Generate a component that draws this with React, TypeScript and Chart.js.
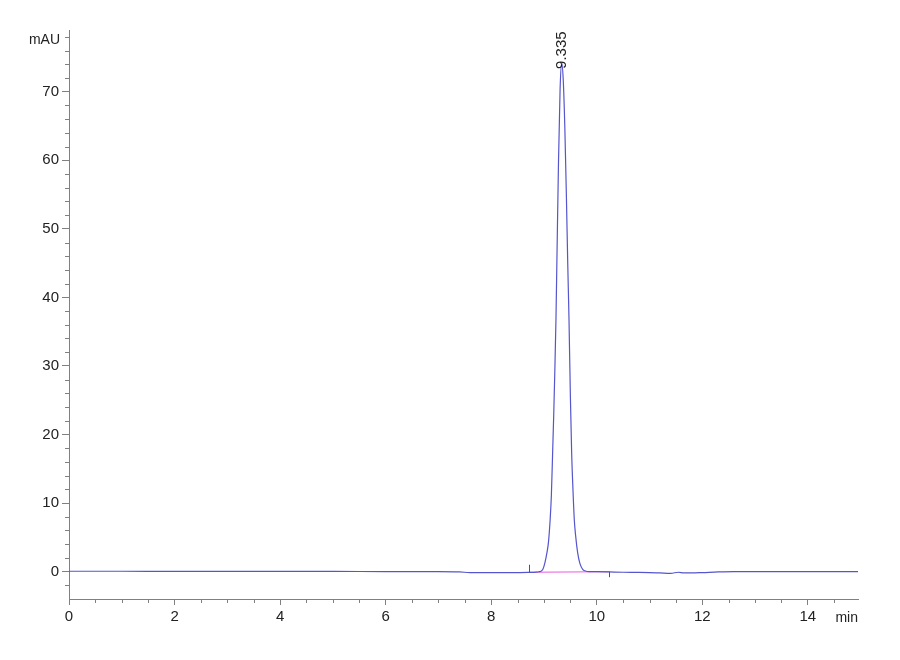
import React, { useRef, useEffect } from 'react';
import { Chart, registerables } from 'chart.js';

Chart.register(...registerables);

// retention time (min) and absorbance (mAU)
const times = [
    0, 1, 2, 3, 4, 5, 6, 7, 7.4, 7.6, 8.0, 8.4, 8.7, 8.85,
    8.9, 8.95, 8.977, 9.015, 9.057, 9.085, 9.117, 9.14, 9.164, 9.185, 9.205, 9.227, 9.245, 9.275, 9.305, 9.335,
    9.365, 9.395, 9.425, 9.45, 9.474, 9.5, 9.524, 9.55, 9.574, 9.6, 9.637, 9.68, 9.737, 9.8, 9.85,
    10.0, 10.25, 10.5, 10.8, 11.0, 11.2, 11.4, 11.55, 11.65, 11.8, 12.0, 12.3, 12.6, 13, 14, 14.95,
];
const signal = [
    0.05, 0.05, 0.03, 0.03, 0.02, 0.02, 0, 0, -0.05, -0.15, -0.15, -0.15, -0.12, -0.08,
    -0.03, 0.1, 0.3, 1.2, 2.8, 4.3, 7.6, 11.1, 17.4, 23.0, 29.1, 36.8, 45.5, 59.7, 70.3, 74.2,
    71.7, 64.8, 54.6, 45.0, 36.8, 25.6, 17.4, 11.8, 7.6, 5.2, 2.8, 1.2, 0.3, 0.05, 0,
    0, -0.05, -0.1, -0.12, -0.15, -0.2, -0.25, -0.1, -0.2, -0.2, -0.15, -0.05, 0, 0, 0, 0,
];

// integration baseline and peak start/end markers
const baseTimes = [8.72, 10.23];
const baseValues = [-0.1, -0.02];
const markerHeights = [1.1, -0.8];

const peakTime = 9.335;
const peakHeight = 74.2;
const peakLabel = '9.335';

const xMin = 0;
const xMax = 14.95;
const yMin = -4;
const yMax = 79;

const axisColor = '#808080';
const textColor = '#222';
const fontFamily = "'Liberation Sans', Arial, sans-serif";

const extras = {
    id: 'extras',
    afterDraw(chart: any) {
        const { ctx, chartArea } = chart;
        const xs = chart.scales.x;
        const ys = chart.scales.y;
        ctx.save();
        // minor ticks
        ctx.strokeStyle = axisColor;
        ctx.lineWidth = 1;
        ctx.beginPath();
        for (let v = 0; v <= xMax; v += 0.5) {
            if (v % 2 === 0) continue;
            const px = Math.round(xs.getPixelForValue(v)) + 0.5;
            ctx.moveTo(px, chartArea.bottom);
            ctx.lineTo(px, chartArea.bottom + 4);
        }
        for (let v = -2; v <= yMax; v += 2) {
            if (v % 10 === 0) continue;
            const py = Math.round(ys.getPixelForValue(v)) + 0.5;
            ctx.moveTo(chartArea.left, py);
            ctx.lineTo(chartArea.left - 4, py);
        }
        ctx.stroke();

        // peak start / end markers
        ctx.strokeStyle = '#555';
        ctx.beginPath();
        baseTimes.forEach((t, i) => {
            const px = Math.round(xs.getPixelForValue(t)) + 0.5;
            ctx.moveTo(px, ys.getPixelForValue(baseValues[i]));
            ctx.lineTo(px, ys.getPixelForValue(baseValues[i] + markerHeights[i]));
        });
        ctx.stroke();

        // unit labels
        ctx.fillStyle = textColor;
        ctx.font = `14px ${fontFamily}`;
        ctx.textAlign = 'right';
        ctx.textBaseline = 'middle';
        ctx.fillText('mAU', chartArea.left - 9, chartArea.top + 10);
        ctx.textBaseline = 'alphabetic';
        ctx.fillText('min', chartArea.right, chartArea.bottom + 23);

        // peak retention time label
        ctx.font = `15px ${fontFamily}`;
        ctx.translate(xs.getPixelForValue(peakTime), ys.getPixelForValue(peakHeight) + 6);
        ctx.rotate(-Math.PI / 2);
        ctx.textAlign = 'left';
        ctx.textBaseline = 'middle';
        ctx.fillText(peakLabel, 0, 0);
        ctx.restore();
    },
};

const App = () => {
    const chartRef = useRef<HTMLCanvasElement>(null);

    useEffect(() => {
        if (!chartRef.current) return;
        const myChart = new Chart(chartRef.current, {
            type: 'line',
            data: {
                datasets: [
                    {
                        label: 'signal',
                        data: times.map((t, i) => ({ x: t, y: signal[i] })),
                        borderColor: 'rgb(85, 85, 205)',
                        borderWidth: 1.2,
                        pointRadius: 0,
                        cubicInterpolationMode: 'monotone',
                    },
                    {
                        label: 'baseline',
                        data: baseTimes.map((t, i) => ({ x: t, y: baseValues[i] })),
                        borderColor: 'rgb(235, 90, 220)',
                        borderWidth: 1,
                        pointRadius: 0,
                    },
                ],
            },
            options: {
                animation: false,
                responsive: false,
                layout: { padding: { left: 0, right: 42, top: 30, bottom: 0 } },
                plugins: { legend: { display: false }, tooltip: { enabled: false } },
                scales: {
                    x: {
                        type: 'linear',
                        min: xMin,
                        max: xMax,
                        afterFit: (scale: any) => { scale.height = 61; },
                        border: { color: axisColor, width: 1 },
                        grid: { drawOnChartArea: false, drawTicks: true, tickLength: 6, tickColor: axisColor },
                        ticks: {
                            stepSize: 2,
                            includeBounds: false,
                            padding: 3,
                            color: textColor,
                            font: { family: fontFamily, size: 15 },
                            maxRotation: 0,
                        },
                    },
                    y: {
                        min: yMin,
                        max: yMax,
                        afterFit: (scale: any) => { scale.width = 69; },
                        border: { color: axisColor, width: 1 },
                        grid: { drawOnChartArea: false, drawTicks: true, tickLength: 7, tickColor: axisColor },
                        ticks: {
                            stepSize: 10,
                            includeBounds: false,
                            padding: 3,
                            color: textColor,
                            font: { family: fontFamily, size: 15 },
                        },
                    },
                },
            },
            plugins: [extras],
        });
        return () => {
            myChart.destroy();
        };
    }, []);

    return (
        <div style={{ position: 'fixed', left: 0, top: 0, width: 900, height: 660, background: '#fff' }}>
            <canvas ref={chartRef} width={900} height={660}></canvas>
        </div>
    );
};

export default App;
